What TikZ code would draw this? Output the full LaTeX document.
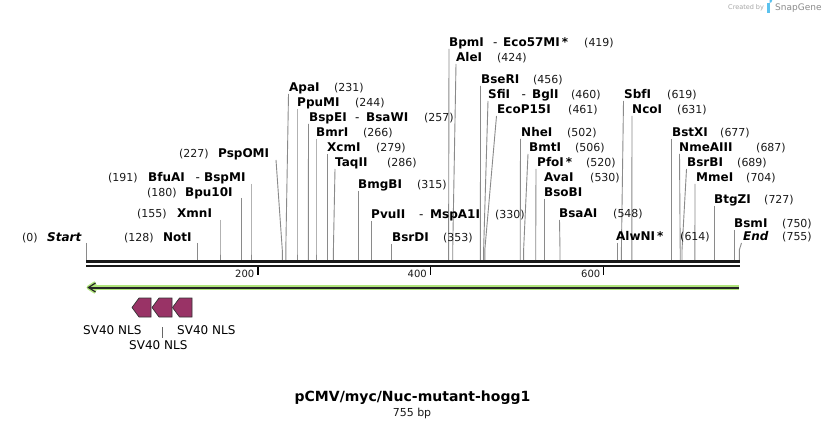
\documentclass[tikz,border=0pt]{standalone}
\usepackage{fontspec}
\setmainfont{DejaVu Sans}
\definecolor{cutgray}{HTML}{8A8A8A}
\definecolor{nlsfill}{HTML}{993366}
\definecolor{arrgreen}{HTML}{B0E57C}
\definecolor{numcol}{HTML}{1A1A1A}
\definecolor{sgblue}{HTML}{5BC2EE}
\tikzset{
  enz/.style={font=\fontsize{12}{14}\selectfont\bfseries, inner sep=0pt, anchor=base west},
  enzdash/.style={font=\fontsize{12}{14}\selectfont, inner sep=0pt, anchor=base west},
  num/.style={font=\fontsize{11}{13}\selectfont, text=numcol, inner sep=0pt, anchor=base west},
  ticklab/.style={font=\fontsize{10}{12}\selectfont, text=numcol, inner sep=0pt, anchor=base east},
  featlab/.style={font=\fontsize{12}{14}\selectfont, inner sep=0pt, anchor=base west},
  cutl/.style={draw=cutgray, line width=0.9pt},
  nls/.style={fill=nlsfill, draw=black!80, line width=0.7pt, line join=miter},
}
\newcommand{\enzn}[4]{\node[enz] (#1) at (#2,#3+4.4) {#4};}
\newcommand{\enzd}[3]{\node[enzdash] (#1) at (#2,#3+4.4) {-};}
\newcommand{\enzc}[4]{\node[num] (#1) at (#2,#3+4.4) {#4};}
\newcommand{\cutline}[4]{\coordinate (#1t) at (#2,#3); \coordinate (#1b) at (#4,250); \coordinate (#1s) at (#4,260); \draw[cutl] (#1t) -- (#1b) -- (#1s);}
\newcommand{\nlsbox}[3]{\coordinate (#1tip) at (#2,307.5); \coordinate (#1a) at (#2+7,298); \coordinate (#1b) at (#3,298); \coordinate (#1c) at (#3,317); \coordinate (#1d) at (#2+7,317);
  \draw[nls] (#1tip) -- (#1a) -- (#1b) -- (#1c) -- (#1d) -- cycle;}
\begin{document}
\begin{tikzpicture}[x=1pt,y=-1pt]
\useasboundingbox (0,0) rectangle (826,427);
\fill[white] (0,0) rectangle (826,427);

% cut lines
\cutline{st}{86.5}{243}{86.5}
\cutline{not}{197.5}{243}{197.5}
\cutline{xmn}{220}{220}{220}
\cutline{bpu}{241.5}{198}{241.5}
\cutline{bfu}{251}{184}{251}
\cutline{psp}{276}{160}{282.3}
\cutline{apa}{288.5}{94}{285.8}
\cutline{ppu}{297}{109}{297}
\cutline{bspe}{308.5}{124}{308.3}
\cutline{bmr}{316}{139}{316}
\cutline{xcm}{327.5}{154}{327.5}
\cutline{taq}{335}{169}{333.4}
\cutline{bmg}{358.4}{191}{358.4}
\cutline{pvu}{371.4}{221}{371.4}
\cutline{bsrd}{391.3}{244}{391.3}
\cutline{bpm}{449}{49}{448.6}
\cutline{ale}{456}{64}{452.7}
\cutline{bse}{480.5}{86}{480.4}
\cutline{sfi}{488}{101}{483.6}
\cutline{eco}{496.5}{116}{484.8}
\cutline{nhe}{520.5}{139}{520.2}
\cutline{bmt}{528}{154}{523.6}
\cutline{pfo}{536}{169}{535.7}
\cutline{ava}{544.4}{199}{544.4}
\cutline{bsaa}{559.5}{220}{560}
\cutline{alw}{617}{243}{617}
\cutline{sbf}{623.5}{101}{621.4}
\cutline{nco}{632}{116}{631.8}
\cutline{bstx}{671.6}{139}{671.6}
\cutline{nme}{679.5}{154}{680.2}
\cutline{bsrb}{686.5}{169}{682}
\cutline{mme}{695}{184}{694.9}
\cutline{btg}{714.8}{206}{714.8}
\cutline{bsm}{734.7}{230}{734.7}
\cutline{en}{741.5}{243}{739.3}

% backbone
\coordinate (bbL) at (86,261.5);
\coordinate (bbR) at (740,261.5);
\coordinate (bbL2) at (86,266.3);
\coordinate (bbR2) at (740,266.3);
\draw[line width=3pt, black!90] (bbL) -- (bbR);
\draw[line width=2pt, black!90] (bbL2) -- (bbR2);

% ticks
\coordinate (t2a) at (258,267); \coordinate (t2b) at (258,275);
\coordinate (t4a) at (430.5,267); \coordinate (t4b) at (430.5,275);
\coordinate (t6a) at (603.5,267); \coordinate (t6b) at (603.5,275);
\draw[line width=1.5pt] (t2a) -- (t2b);
\draw[line width=1.5pt] (t4a) -- (t4b);
\draw[line width=1.5pt] (t6a) -- (t6b);
\node[ticklab] (l200) at (254.5,277) {200};
\node[ticklab] (l400) at (427,277) {400};
\node[ticklab] (l600) at (600.5,277) {600};

% left-side labels
\enzc{c0}{22}{237}{(0)}    \enzn{n0}{47}{237}{\itshape Start}
\enzc{c128}{124}{237}{(128)} \enzn{n128}{163}{237}{NotI}
\enzc{c155}{137}{213}{(155)} \enzn{n155}{177}{213}{XmnI}
\enzc{c180}{147}{192}{(180)} \enzn{n180}{185}{192}{Bpu10I}
\enzc{c191}{108}{177}{(191)} \enzn{n191}{148}{177}{BfuAI} \enzd{d191}{195.5}{177} \enzn{n191b}{204}{177}{BspMI}
\enzc{c227}{179}{153}{(227)} \enzn{n227}{218}{153}{PspOMI}

% right-side labels
\enzn{n231}{289}{87}{ApaI} \enzc{c231}{334}{87}{(231)}
\enzn{n244}{297}{102}{PpuMI} \enzc{c244}{355}{102}{(244)}
\enzn{n257}{309}{117}{BspEI} \enzd{d257}{355}{117} \enzn{n257b}{366}{117}{BsaWI} \enzc{c257}{424}{117}{(257)}
\enzn{n266}{316}{132}{BmrI} \enzc{c266}{363}{132}{(266)}
\enzn{n279}{327}{147}{XcmI} \enzc{c279}{376}{147}{(279)}
\enzn{n286}{335}{162}{TaqII} \enzc{c286}{387}{162}{(286)}
\enzn{n315}{358}{184}{BmgBI} \enzc{c315}{417}{184}{(315)}
\enzn{n330}{371}{214}{PvuII} \enzd{d330}{419}{214} \enzn{n330b}{430}{214}{MspA1I} \enzc{c330}{495}{214}{(330)}
\enzn{n353}{392}{237}{BsrDI} \enzc{c353}{443}{237}{(353)}
\enzn{n419}{449}{42}{BpmI} \enzd{d419}{493}{42} \enzn{n419b}{503}{42}{Eco57MI\,*} \enzc{c419}{584}{42}{(419)}
\enzn{n424}{456}{57}{AleI} \enzc{c424}{497}{57}{(424)}
\enzn{n456}{481}{79}{BseRI} \enzc{c456}{533}{79}{(456)}
\enzn{n460}{488}{94}{SfiI} \enzd{d460}{521.5}{94} \enzn{n460b}{532}{94}{BglI} \enzc{c460}{571}{94}{(460)}
\enzn{n461}{497}{109}{EcoP15I} \enzc{c461}{568}{109}{(461)}
\enzn{n502}{521}{132}{NheI} \enzc{c502}{567}{132}{(502)}
\enzn{n506}{529}{147}{BmtI} \enzc{c506}{575}{147}{(506)}
\enzn{n520}{537}{162}{PfoI\,*} \enzc{c520}{586}{162}{(520)}
\enzn{n530}{544}{177}{AvaI} \enzc{c530}{590}{177}{(530)}
\enzn{n530b}{544}{192}{BsoBI}
\enzn{n548}{559}{213}{BsaAI} \enzc{c548}{613}{213}{(548)}
\enzn{n614}{616}{236}{AlwNI\,*} \enzc{c614}{680}{236}{(614)}
\enzn{n619}{624}{94}{SbfI} \enzc{c619}{667}{94}{(619)}
\enzn{n631}{632}{109}{NcoI} \enzc{c631}{677}{109}{(631)}
\enzn{n677}{672}{132}{BstXI} \enzc{c677}{720}{132}{(677)}
\enzn{n687}{679}{147}{NmeAIII} \enzc{c687}{756}{147}{(687)}
\enzn{n689}{687}{162}{BsrBI} \enzc{c689}{737}{162}{(689)}
\enzn{n704}{696}{177}{MmeI} \enzc{c704}{746}{177}{(704)}
\enzn{n727}{714}{199}{BtgZI} \enzc{c727}{764}{199}{(727)}
\enzn{n750}{734}{223}{BsmI} \enzc{c750}{782}{223}{(750)}
\enzn{n755}{743}{236}{\itshape End} \enzc{c755}{782}{236}{(755)}

% green direction arrow
\coordinate (gR) at (739,287.5);
\coordinate (gL) at (88.5,287.5);
\coordinate (gU) at (95.5,283);
\coordinate (gD) at (95.5,292);
\draw[arrgreen, line width=5.5pt] (gR) -- (gL);
\draw[arrgreen, line width=4pt, line join=round] (gU) -- (gL) -- (gD);
\draw[black!85, line width=2pt] (gR) -- (gL);
\draw[black!85, line width=1.2pt, line join=miter] (gU) -- (gL) -- (gD);

% SV40 NLS features
\nlsbox{fa}{132}{151}
\nlsbox{fb}{152}{172}
\nlsbox{fc}{172.5}{192}
\node[featlab] (fla) at (83,334.3) {SV40 NLS};
\node[featlab] (flc) at (177,334.3) {SV40 NLS};
\node[featlab] (flb) at (129,349.5) {SV40 NLS};
\coordinate (fbt) at (162,327);
\coordinate (fbl) at (162,338);
\draw[black!60, line width=0.7pt] (fbt) -- (fbl);

% title
\node[font=\fontsize{14}{16}\selectfont\bfseries, inner sep=0pt, anchor=base] (title) at (412.5,401) {pCMV/myc/Nuc-mutant-hogg1};
\node[font=\fontsize{11}{13}\selectfont, text=numcol, inner sep=0pt, anchor=base] (size) at (412,416) {755 bp};

% watermark
\node[font=\fontsize{6.5}{8}\selectfont, text=black!35, inner sep=0pt, anchor=base west] (cb) at (728,9.5) {Created by};
\fill[sgblue] (767,3) rectangle (769.5,13);
\fill[sgblue] (769.5,3) arc[start angle=90, end angle=-90, radius=2.7] -- cycle;
\node[font=\fontsize{9}{10}\selectfont, text=black!45, inner sep=0pt, anchor=base west] (sg) at (775,10.5) {SnapGene};
\end{tikzpicture}
\end{document}
